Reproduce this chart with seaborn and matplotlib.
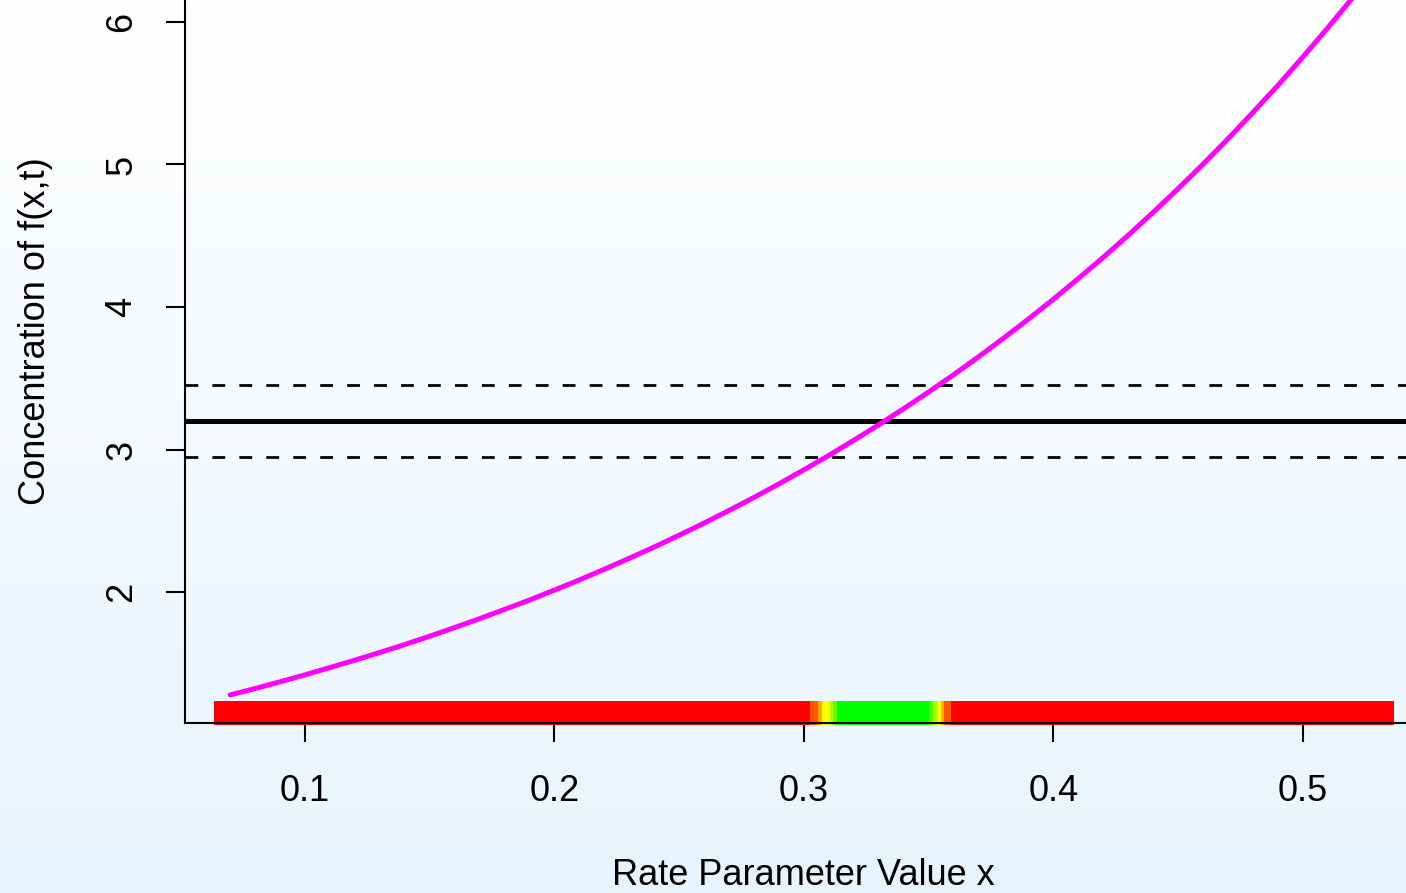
import numpy as np
import pandas as pd
import matplotlib
matplotlib.use("Agg")
import matplotlib.pyplot as plt
import seaborn as sns
from matplotlib.colors import LinearSegmentedColormap

# ---- data ----
rate_x = [0.07, 0.08, 0.09, 0.10, 0.11, 0.12, 0.13, 0.14, 0.15, 0.16,
          0.17, 0.18, 0.19, 0.20, 0.21, 0.22, 0.23, 0.24, 0.25, 0.26,
          0.27, 0.28, 0.29, 0.30, 0.31, 0.32, 0.33, 0.34, 0.35, 0.36,
          0.37, 0.38, 0.39, 0.40, 0.41, 0.42, 0.43, 0.44, 0.45, 0.46,
          0.47, 0.48, 0.49, 0.50, 0.51, 0.52]
conc_y = [1.278, 1.323, 1.370, 1.419, 1.470, 1.522, 1.576, 1.632, 1.690, 1.751,
          1.813, 1.878, 1.944, 2.014, 2.085, 2.160, 2.237, 2.316, 2.399, 2.484,
          2.573, 2.664, 2.759, 2.858, 2.959, 3.065, 3.174, 3.287, 3.404, 3.525,
          3.651, 3.781, 3.916, 4.055, 4.200, 4.349, 4.504, 4.665, 4.831, 5.003,
          5.181, 5.366, 5.556, 5.755, 5.960, 6.172]
target_level = 3.2
tol_upper = 3.45
tol_lower = 2.95

band_edges = [0.0635, 0.3024, 0.3056, 0.3072, 0.3104, 0.3116, 0.3132,
              0.3501, 0.3517, 0.3533, 0.3549, 0.3561, 0.3589, 0.5365]
band_colors = ["#FF0000", "#FF5500", "#FFAA00", "#FFFF00", "#AAFF00", "#55FF00",
               "#00FF00", "#55FF00", "#AAFF00", "#FFFF00", "#FFAA00", "#FF5500",
               "#FF0000"]
band_bottom = 1.067
band_top = 1.235

x_ticks = [0.1, 0.2, 0.3, 0.4, 0.5]
x_tick_labels = ["0.1", "0.2", "0.3", "0.4", "0.5"]
y_ticks = [2, 3, 4, 5, 6]
y_tick_labels = ["2", "3", "4", "5", "6"]

x_label = "Rate Parameter Value x"
y_label = "Concentration of f(x,t)"

# ---- style ----
sns.set_theme(style="white")
plt.rcParams["font.family"] = ["Liberation Sans", "DejaVu Sans"]

W, H = 1406, 893
fig = plt.figure(figsize=(W / 100, H / 100), dpi=100)

# gradient background
bg = fig.add_axes([0, 0, 1, 1], zorder=-10)
grad = np.linspace(0, 1, 256).reshape(-1, 1)
cmap = LinearSegmentedColormap.from_list("bg", ["#FFFFFF", "#E8F4FD"])
bg.imshow(grad, aspect="auto", cmap=cmap, extent=[0, 1, 0, 1], origin="upper")
bg.axis("off")

ax = fig.add_axes([185 / W, (H - 723) / H, (W - 185) / W, 723 / H])
ax.patch.set_alpha(0)
ax.set_xlim(0.0519, 0.5413)
ax.set_ylim(1.081, 6.154)

# colour band
segs = [(band_edges[i], band_edges[i + 1] - band_edges[i]) for i in range(len(band_colors))]
ax.broken_barh(segs, (band_bottom, band_top - band_bottom), facecolors=band_colors,
               edgecolors="none", linewidth=0, clip_on=False, zorder=1)

# reference lines
ax.axhline(target_level, color="black", lw=3.6, zorder=3)
for lvl in (tol_upper, tol_lower):
    ax.axhline(lvl, color="black", lw=2.0, dashes=(4.6, 5.1), zorder=3)

# curve
df = pd.DataFrame({"x": rate_x, "y": conc_y})
sns.lineplot(data=df, x="x", y="y", color="#FF00FF", lw=3.6, ax=ax, zorder=4,
             sort=True, legend=False)
for ln in ax.lines:
    if ln.get_color() in ("#FF00FF", "#ff00ff"):
        ln.set_solid_capstyle("round")
        ln.set_solid_joinstyle("round")

# axes styling
for side in ("top", "right"):
    ax.spines[side].set_visible(False)
for side in ("left", "bottom"):
    ax.spines[side].set_color("black")
    ax.spines[side].set_linewidth(1.5)

ax.set_xticks(x_ticks)
ax.set_xticklabels(x_tick_labels)
ax.set_yticks(y_ticks)
ax.set_yticklabels(y_tick_labels, rotation=90, va="center", ha="right")
ax.tick_params(axis="both", which="major", direction="out", length=14, width=1.5,
               color="black", labelsize=26, labelcolor="black")
ax.tick_params(axis="x", pad=23, bottom=True)
ax.tick_params(axis="y", pad=19, left=True)
ax.set_xlabel("")
ax.set_ylabel("")

fig.text(803 / W, (H - 885) / H, x_label, ha="center", va="baseline", fontsize=26,
         color="black")
fig.text(36 / W, (H - 331) / H, y_label, ha="center", va="center", rotation=90,
         fontsize=26, color="black")

fig.savefig("out.png", dpi=100)
